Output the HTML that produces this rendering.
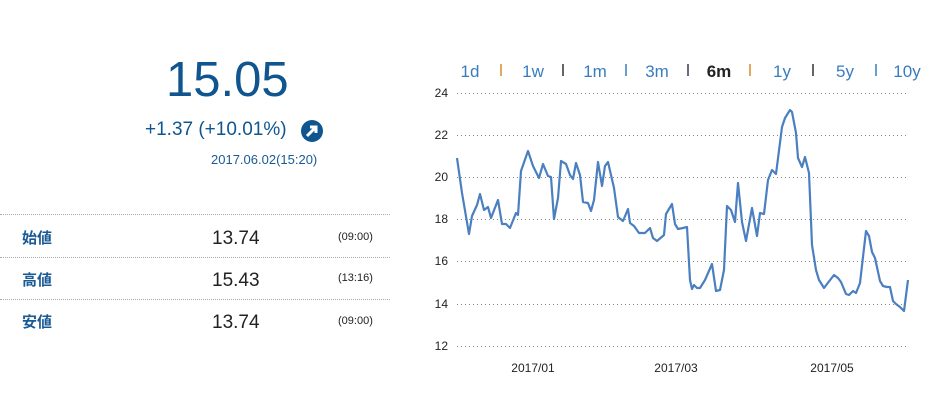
<!DOCTYPE html>
<html><head><meta charset="utf-8"><style>
body{margin:0;width:942px;height:405px;background:#fff;font-family:"Liberation Sans","Noto Sans CJK JP",sans-serif;overflow:hidden;position:relative}
.a{position:absolute;white-space:nowrap}
.line{position:absolute;left:0;width:390px;border-top:1px dotted #aaa}
.lab{color:#1a5a94;font-weight:bold;font-size:15px}
.val{color:#222;font-size:19px}
.tm{color:#222;font-size:11px}
</style></head><body>
<div class="a" style="left:166px;top:52px;font-size:49px;color:#0f558f">15.05</div>
<div class="a" style="left:145px;top:119px;font-size:19px;color:#0f558f">+1.37 (+10.01%)</div>
<svg class="a" style="left:300px;top:119px" width="24" height="24"><circle cx="12" cy="12" r="11" fill="#0f558f"/><path d="M7 17 L16 8 M10 8 H16 V14" stroke="#fff" stroke-width="3" fill="none"/></svg>
<div class="a" style="left:211px;top:152px;font-size:13px;color:#1a5a94">2017.06.02(15:20)</div>
<div class="line" style="top:214px"></div>
<div class="line" style="top:257px"></div>
<div class="line" style="top:299px"></div>
<div class="a lab" style="left:22px;top:227px">始値</div>
<div class="a val" style="left:212px;top:228px">13.74</div>
<div class="a tm" style="left:338px;top:231px">(09:00)</div>
<div class="a lab" style="left:22px;top:269px">高値</div>
<div class="a val" style="left:212px;top:270px">15.43</div>
<div class="a tm" style="left:338px;top:272px">(13:16)</div>
<div class="a lab" style="left:22px;top:311px">安値</div>
<div class="a val" style="left:212px;top:312px">13.74</div>
<div class="a tm" style="left:338px;top:315px">(09:00)</div>
<svg class="a" style="left:0;top:0" width="942" height="405" font-family="Liberation Sans, sans-serif">
<g font-size="17" fill="#3a7cc0" text-anchor="middle">
<text x="470" y="77">1d</text><text x="533" y="77">1w</text><text x="595" y="77">1m</text><text x="657" y="77">3m</text>
<text x="719" y="77" fill="#222" font-weight="bold">6m</text><text x="782" y="77">1y</text><text x="845" y="77">5y</text><text x="907" y="77">10y</text>
</g>
<g stroke-width="1.5">
<line x1="501" y1="64" x2="501" y2="76" stroke="#d88a2a"/><line x1="563" y1="64" x2="563" y2="76" stroke="#333"/>
<line x1="626" y1="64" x2="626" y2="76" stroke="#3a7cc0"/><line x1="688" y1="64" x2="688" y2="76" stroke="#443355"/>
<line x1="750" y1="64" x2="750" y2="76" stroke="#d88a2a"/><line x1="813" y1="64" x2="813" y2="76" stroke="#333"/>
<line x1="876" y1="64" x2="876" y2="76" stroke="#3a7cc0"/>
</g>
<g stroke="#888" stroke-dasharray="1,3" stroke-width="1">
<line x1="457" y1="93.5" x2="909" y2="93.5"/><line x1="457" y1="135.5" x2="909" y2="135.5"/><line x1="457" y1="177.5" x2="909" y2="177.5"/>
<line x1="457" y1="219.5" x2="909" y2="219.5"/><line x1="457" y1="261.5" x2="909" y2="261.5"/><line x1="457" y1="304.5" x2="909" y2="304.5"/><line x1="457" y1="346.5" x2="909" y2="346.5"/>
</g>
<g font-size="12" fill="#222" text-anchor="end">
<text x="448" y="97">24</text><text x="448" y="139">22</text><text x="448" y="181">20</text><text x="448" y="223">18</text>
<text x="448" y="265">16</text><text x="448" y="308">14</text><text x="448" y="350">12</text>
</g>
<g font-size="12" fill="#222" text-anchor="middle">
<text x="533" y="372">2017/01</text><text x="676" y="372">2017/03</text><text x="832" y="372">2017/05</text>
</g>
<polyline fill="none" stroke="#4a7fc0" stroke-width="2.2" stroke-linejoin="round" points="457,158 462,193 469,234 472,216 477,205 480,194 484,210 488,207 491,218 498,200 502,224 506,224 510,228 516,213 518,215 521,171 528,151 533,166 539,178 543,164 548,176 551,177 554,219 558,198 561,161 566,164 570,175 573,179 576,163 580,175 583,202 588,203 591,211 594,200 598,162 602,186 605,166 608,162 614,188 618,217 623,221 628,209 630,223 634,226 639,233 645,233 650,228 653,238 657,241 664,235 666,214 672,204 675,224 678,229 683,228 687,227 690,280 692,289 694,285 697,288 700,288 705,280 712,264 716,291 720,290 724,270 727,206 731,210 735,222 738,183 742,222 746,241 752,208 757,236 760,213 764,214 768,180 772,170 776,174 782,127 785,118 790,110 792,112 796,133 798,158 802,167 805,157 809,173 812,245 816,270 819,280 824,288 827,284 834,275 838,278 841,282 846,294 849,295 853,291 856,293 860,283 866,231 869,236 872,252 875,258 880,281 883,286 887,287 890,287 893,301 896,304 900,307 904,311 908,280"/>
</svg>
</body></html>
